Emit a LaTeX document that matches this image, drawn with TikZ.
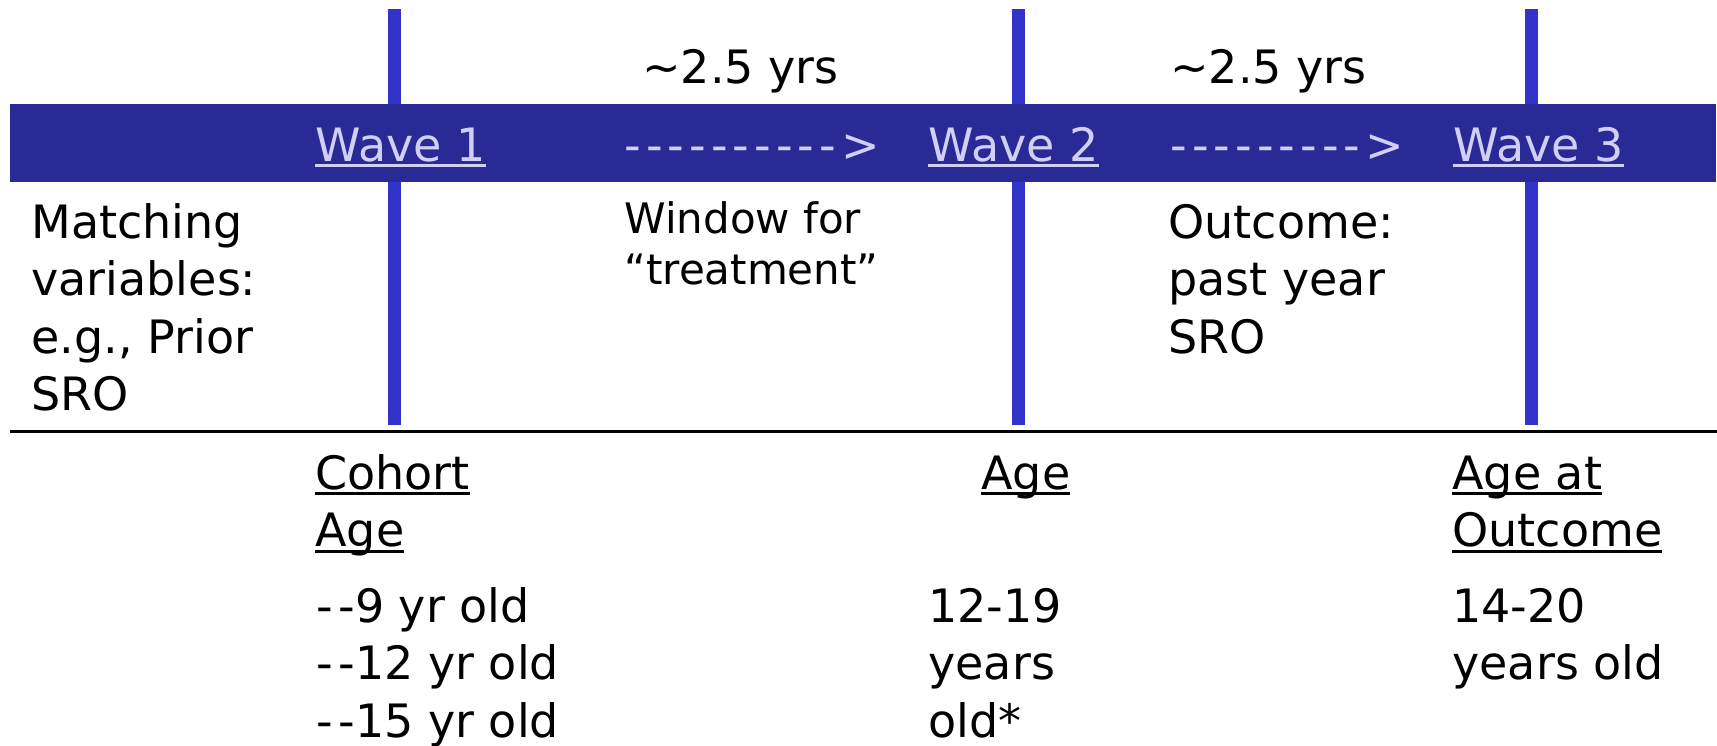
\documentclass[tikz,border=0pt]{standalone}
\usepackage{fontspec}
\setmainfont{DejaVu Sans}[Ligatures=TeXOff]
\definecolor{bandblue}{RGB}{42,42,150}
\definecolor{waveblue}{RGB}{51,51,204}
\definecolor{wavetext}{RGB}{208,208,245}
\newlength\ulwd
\newcommand{\ulbar}[1]{\settowidth{\ulwd}{#1}\makebox[0pt][l]{\rule[-3pt]{\ulwd}{1.3pt}}#1}
\newcommand{\txtlines}[1]{\begin{tabular}[t]{@{}l@{}}#1\end{tabular}}
\newcommand{\dd}{{\addfontfeature{LetterSpace=12}--}}
\tikzset{
  lbl/.style={anchor=base west, inner sep=0pt,
    font=\fontsize{23}{28.75}\selectfont},
  smalllbl/.style={lbl, font=\fontsize{21}{25.5}\selectfont},
  wavelbl/.style={lbl, text=wavetext},
  dashlbl/.style={wavelbl, font=\fontsize{23}{28.75}\selectfont\addfontfeature{LetterSpace=11}},
  waveline/.style={waveblue, line width=6.5pt},
}
\begin{document}
\begin{tikzpicture}[x=0.5pt,y=-0.5pt]
  \useasboundingbox (0,0) rectangle (1717,745);
  % wave markers
  \foreach \wx in {394,1018,1531}
    \draw[waveline] (\wx,9) -- (\wx,425);
  \fill[bandblue] (10,104) rectangle (1716,182);
  \draw[line width=1.5pt] (10,431.5) -- (1717,431.5);

  \node[lbl] (gap1) at (642,83) {\textasciitilde2.5 yrs};
  \node[lbl] (gap2) at (1170,83) {\textasciitilde2.5 yrs};

  \node[wavelbl] (w1) at (315,161) {\ulbar{Wave 1}};
  \node[dashlbl] (d1) at (624,161) {---------->};
  \node[wavelbl] (w2) at (928,161) {\ulbar{Wave 2}};
  \node[dashlbl] (d2) at (1170,161) {--------->};
  \node[wavelbl] (w3) at (1453,161) {\ulbar{Wave 3}};

  \node[lbl] (match) at (31,238) {\txtlines{Matching\\variables:\\e.g., Prior\\SRO}};
  \node[smalllbl] (window) at (624,233) {\txtlines{Window for\\“treatment”}};
  \node[lbl] (outc) at (1168,238) {\txtlines{Outcome:\\past year\\SRO}};

  % ages
  \node[lbl] (cohort) at (315,489) {\txtlines{\ulbar{Cohort}\\\ulbar{Age}}};
  \node[lbl] (age2) at (981,489) {\ulbar{Age}};
  \node[lbl] (age3) at (1452,489) {\txtlines{\ulbar{Age at}\\\ulbar{Outcome}}};
  \node[lbl] (c1) at (316,622) {\txtlines{\dd9 yr old\\\dd12 yr old\\\dd15 yr old}};
  \node[lbl] (r2) at (928,622) {\txtlines{12-19\\years\\old*}};
  \node[lbl] (r3) at (1452,622) {\txtlines{14-20\\years old}};
\end{tikzpicture}
\end{document}
